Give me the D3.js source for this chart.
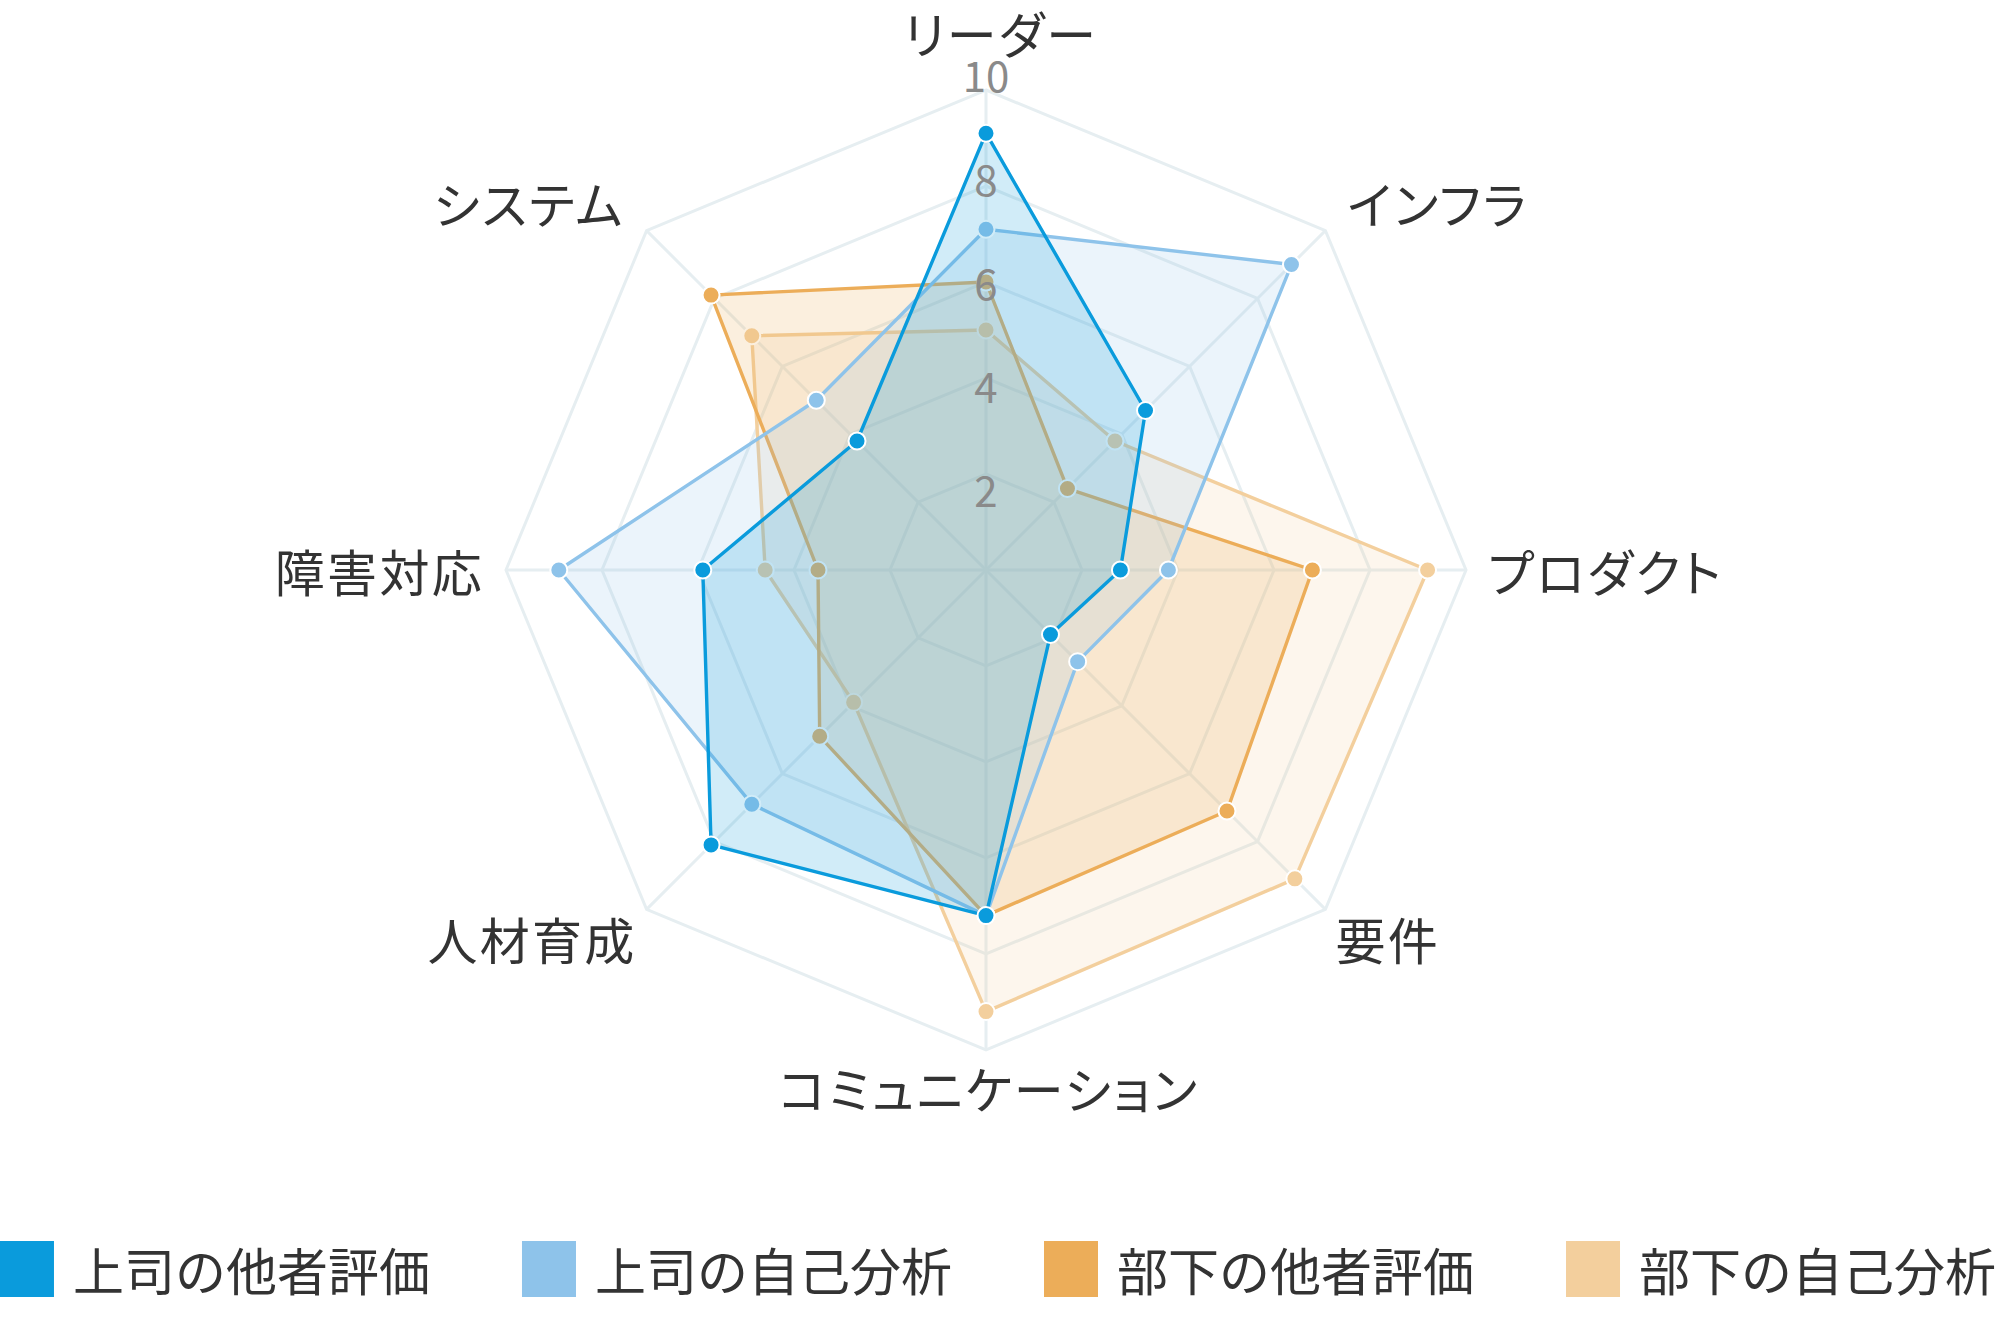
<!DOCTYPE html>
<html><head><meta charset="utf-8">
<script src="https://cdn.jsdelivr.net/npm/d3@7"></script>
<style>body{margin:0;background:#fff} svg{display:block}</style>
</head><body>
<svg id="chart" width="2000" height="1336"></svg>
<script>
// ---- data ----
const axes = ["リーダー","インフラ","プロダクト","要件","コミュニケーション","人材育成","障害対応","システム"];
const seriesNames = ["上司の他者評価","上司の自己分析","部下の他者評価","部下の自己分析"];
const bossOther = [9.1, 4.7, 2.8, 1.9, 7.2, 8.1, 5.9, 3.8];
const bossSelf  = [7.1, 9.0, 3.8, 2.7, 7.2, 6.9, 8.9, 5.0];
const subOther  = [6.0, 2.4, 6.8, 7.1, 7.2, 4.9, 3.5, 8.1];
const subSelf   = [5.0, 3.8, 9.2, 9.1, 9.2, 3.9, 4.6, 6.9];
const tickValues = [2, 4, 6, 8, 10];
const maxValue = 10;

// ---- style ----
const colors = ["#0a9bdc", "#8ec3ea", "#ecad59", "#f3cf9d"];
const fillOpacity = [0.19, 0.18, 0.2, 0.18];
const font = "'Noto Sans CJK JP','Noto Sans',sans-serif";

const svg = d3.select("#chart");
const cx = 986, cy = 570, R = 480;
const r = d3.scaleLinear().domain([0, maxValue]).range([0, R]);
const angle = d3.scalePoint().domain(d3.range(axes.length + 1)).range([0, 2 * Math.PI]);
const pt = (i, v) => [cx + r(v) * Math.sin(angle(i)), cy - r(v) * Math.cos(angle(i))];

const g = svg.append("g");

// grid rings
const gridColor = "#e6eef1";
g.selectAll("path.ring").data(tickValues).join("path")
  .attr("class", "ring")
  .attr("d", t => "M" + axes.map((a, i) => pt(i, t).join(",")).join("L") + "Z")
  .attr("fill", "none").attr("stroke", gridColor).attr("stroke-width", 3);
// spokes
g.selectAll("line.spoke").data(axes).join("line")
  .attr("class", "spoke")
  .attr("x1", cx).attr("y1", cy)
  .attr("x2", (a, i) => pt(i, maxValue)[0])
  .attr("y2", (a, i) => pt(i, maxValue)[1])
  .attr("stroke", gridColor).attr("stroke-width", 3);

// series (drawn last-to-first so the first series is on top)
const allSeries = [bossOther, bossSelf, subOther, subSelf];
const order = [3, 2, 1, 0];
const radial = d3.lineRadial()
  .angle((d, i) => angle(i))
  .radius(d => r(d))
  .curve(d3.curveLinearClosed);

order.forEach(si => {
  const vals = allSeries[si];
  const sg = g.append("g").attr("transform", `translate(${cx},${cy})`);
  sg.append("path").datum(vals)
    .attr("d", radial)
    .attr("fill", colors[si]).attr("fill-opacity", fillOpacity[si])
    .attr("stroke", colors[si]).attr("stroke-width", 3.4)
    .attr("stroke-linejoin", "round");
  sg.selectAll("circle").data(vals).join("circle")
    .attr("cx", (d, i) => r(d) * Math.sin(angle(i)))
    .attr("cy", (d, i) => -r(d) * Math.cos(angle(i)))
    .attr("r", 8.5)
    .attr("fill", colors[si]).attr("stroke", "#fff").attr("stroke-width", 2);
});

// tick labels along the top axis
const tickLabelY = d3.scaleLinear().domain([2, 10]).range([507, 92]);
g.selectAll("text.tick").data(tickValues).join("text")
  .attr("class", "tick")
  .attr("x", cx).attr("y", d => tickLabelY(d))
  .attr("text-anchor", "middle")
  .attr("font-family", font).attr("font-size", 42)
  .attr("fill", "#8a8a8a")
  .text(d => d);

// axis names
g.selectAll("text.axisName").data(axes).join("text")
  .attr("class", "axisName")
  .each(function (name, i) {
    const [vx, vy] = pt(i, maxValue);
    const s = Math.sin(angle(i)), c = Math.cos(angle(i));
    let x = vx, y = vy, anchor = "middle";
    if (Math.abs(s) < 0.01) {
      if (c > 0) { y = vy - 58; x = vx + 15; } else { y = vy + 37; x = vx + 3; }
    } else {
      anchor = s > 0 ? "start" : "end";
      x = vx + Math.sign(s) * (c > -0.01 ? 22 : 10);
      y = vy - c * 40;
    }
    d3.select(this).attr("x", x).attr("y", y)
      .attr("text-anchor", anchor)
      .attr("dominant-baseline", "central");
  })
  .attr("font-family", font).attr("font-size", 50)
  .style("font-feature-settings", "'palt' 1")
  .style("letter-spacing", "2.3px")
  .attr("fill", "#333")
  .text(d => d);

// legend
const legend = svg.append("g");
const items = legend.selectAll("g").data(seriesNames).join("g");
items.append("rect").attr("width", 54).attr("height", 56).attr("y", 1241)
  .attr("fill", (d, i) => colors[i]);
items.append("text").attr("x", 73).attr("y", 1269)
  .attr("dominant-baseline", "central")
  .attr("font-family", font).attr("font-size", 51).attr("fill", "#333")
  .text(d => d);
const widths = [];
items.each(function () { widths.push(this.getBBox().width); });
const gap = 92;
const total = d3.sum(widths) + gap * (widths.length - 1);
let x0 = 998 - total / 2;
items.attr("transform", (d, i) => {
  const t = `translate(${x0},0)`;
  x0 += widths[i] + gap;
  return t;
});
</script>
</body></html>
